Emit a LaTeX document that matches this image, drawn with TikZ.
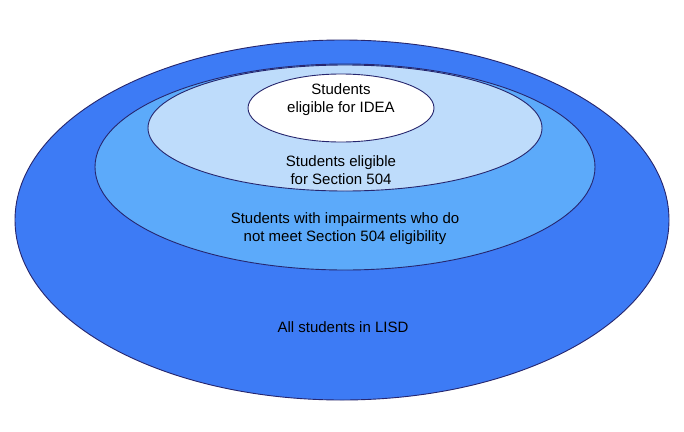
\documentclass[tikz,border=0pt]{standalone}
\usepackage{fontspec}
\setmainfont{Liberation Sans}
\begin{document}
\begin{tikzpicture}[x=1pt,y=-1pt,
  ell/.style={draw=black!60!blue!70!gray,line width=0.9pt},
  lbl/.style={align=center,font=\fontsize{15}{18}\selectfont,text=black}]
\useasboundingbox[fill=white] (0,0) rectangle (684,431);
\definecolor{c1}{RGB}{61,123,245}
\definecolor{c2}{RGB}{92,170,250}
\definecolor{c3}{RGB}{190,220,251}
\filldraw[ell,fill=c1] (342,220) ellipse [x radius=327,y radius=180];
\filldraw[ell,fill=c2] (345,167) ellipse [x radius=250,y radius=103];
\filldraw[ell,fill=c3] (345,128) ellipse [x radius=197,y radius=63];
\filldraw[ell,fill=white] (341,108) ellipse [x radius=93,y radius=34];
\node[lbl] (idea) at (341,100) {Students\\eligible for IDEA};
\node[lbl] (s504) at (341,170) {Students eligible\\for Section 504};
\node[lbl] (imp) at (345,229) {Students with impairments who do\\not meet Section 504 eligibility};
\node[lbl] (all) at (343,327) {All students in LISD};
\end{tikzpicture}
\end{document}
